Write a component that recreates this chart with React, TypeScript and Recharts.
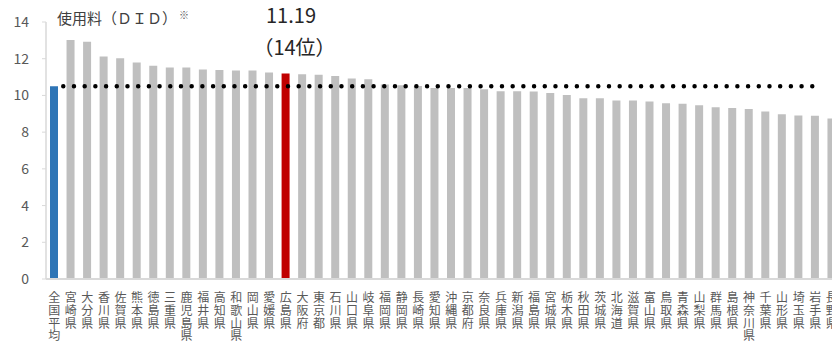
import React from 'react';
import { BarChart, Bar, Cell, XAxis, YAxis, ReferenceLine } from 'recharts';

const PREFS = [
  '全国平均', '宮崎県', '大分県', '香川県', '佐賀県', '熊本県', '徳島県', '三重県',
  '鹿児島県', '福井県', '高知県', '和歌山県', '岡山県', '愛媛県', '広島県', '大阪府',
  '東京都', '石川県', '山口県', '岐阜県', '福岡県', '静岡県', '長崎県', '愛知県',
  '沖縄県', '京都府', '奈良県', '兵庫県', '新潟県', '福島県', '宮城県', '栃木県',
  '秋田県', '茨城県', '北海道', '滋賀県', '富山県', '鳥取県', '青森県', '山梨県',
  '群馬県', '島根県', '神奈川県', '千葉県', '山形県', '埼玉県', '岩手県', '長野県',
];

const FEES = [
  10.5, 13.02, 12.93, 12.12, 12.03, 11.79, 11.61, 11.52,
  11.52, 11.41, 11.38, 11.36, 11.36, 11.25, 11.19, 11.16,
  11.12, 11.06, 10.92, 10.88, 10.6, 10.56, 10.52, 10.4,
  10.4, 10.4, 10.34, 10.23, 10.23, 10.21, 10.13, 10.02,
  9.84, 9.84, 9.73, 9.72, 9.67, 9.57, 9.55, 9.46,
  9.35, 9.31, 9.26, 9.13, 8.98, 8.91, 8.89, 8.75,
];

const Y_TICKS = [0, 2, 4, 6, 8, 10, 12, 14];

const NATIONAL = '全国平均';
const TARGET = '広島県';

const data = PREFS.map((name, i) => ({ name, value: FEES[i] }));
const avg = FEES[PREFS.indexOf(NATIONAL)];
const targetValue = FEES[PREFS.indexOf(TARGET)];
const targetRank = PREFS.filter((p) => p !== NATIONAL).indexOf(TARGET) + 1;

const JP_FONT = '"Noto Sans CJK JP", "Noto Sans", sans-serif';

const barColor = (name: string) => {
  if (name === NATIONAL) return '#2e75b6';
  if (name === TARGET) return '#c00000';
  return '#bfbfbf';
};

// 縦書きのラベル（1文字ずつ）
const VerticalTick = (props: any) => {
  const { x, y, payload } = props;
  const chars = Array.from(String(payload.value));
  return (
    <g>
      {chars.map((c, i) => (
        <text
          key={i}
          x={x}
          y={y + 23 + i * 12.8}
          textAnchor="middle"
          fill="#595959"
          fontSize={12}
          fontFamily={JP_FONT}
        >
          {c}
        </text>
      ))}
    </g>
  );
};

const DottedAvg = (props: any) => {
  const { x1, y1, x2, y2 } = props;
  return (
    <line
      x1={x1 + 9}
      y1={y1}
      x2={x2 - 9}
      y2={y2}
      stroke="#000"
      strokeWidth={4.5}
      strokeLinecap="round"
      strokeDasharray="0 10.7"
    />
  );
};

const App: React.FC = () => {
  return (
    <div style={{ position: 'relative', width: 832, height: 337, fontFamily: JP_FONT }}>
      <BarChart
        width={832}
        height={337}
        data={data}
        margin={{ top: 14, right: 0, bottom: 0, left: 0 }}
      >
        <XAxis
          dataKey="name"
          interval={0}
          tickLine={false}
          tickSize={0}
          tickMargin={0}
          height={66}
          axisLine={{ stroke: '#d9d9d9', strokeWidth: 2 }}
          tick={<VerticalTick />}
        />
        <YAxis
          width={38}
          domain={[0, 14]}
          ticks={Y_TICKS}
          interval={0}
          axisLine={{ stroke: '#d9d9d9', strokeWidth: 1.5 }}
          tickLine={{ stroke: '#d9d9d9' }}
          tickSize={4}
          tickMargin={13}
          tick={{ fill: '#595959', fontSize: 14, fontFamily: JP_FONT }}
        />
        <Bar dataKey="value" barSize={8} isAnimationActive={false}>
          {data.map((d, i) => (
            <Cell key={`cell-${i}`} fill={barColor(d.name)} />
          ))}
        </Bar>
        <ReferenceLine
          segment={[
            { x: PREFS[0], y: avg },
            { x: PREFS[PREFS.length - 1], y: avg },
          ]}
          shape={<DottedAvg />}
        />
      </BarChart>
      <div
        style={{
          position: 'absolute',
          left: 49,
          top: -1,
          fontSize: 15,
          color: '#404040',
          whiteSpace: 'nowrap',
        }}
      >
        使用料（ＤＩＤ）
        <span style={{ fontSize: 10, verticalAlign: 'top', marginLeft: 2, color: '#595959' }}>※</span>
      </div>
      <div
        style={{
          position: 'absolute',
          left: 233,
          width: 100,
          top: -9,
          fontSize: 20,
          color: '#262626',
          lineHeight: '31.5px',
          textAlign: 'center',
          whiteSpace: 'nowrap',
        }}
      >
        <div>{targetValue.toFixed(2)}</div>
        <div style={{ marginLeft: 7 }}>（{targetRank}位）</div>
      </div>
    </div>
  );
};

export default App;
